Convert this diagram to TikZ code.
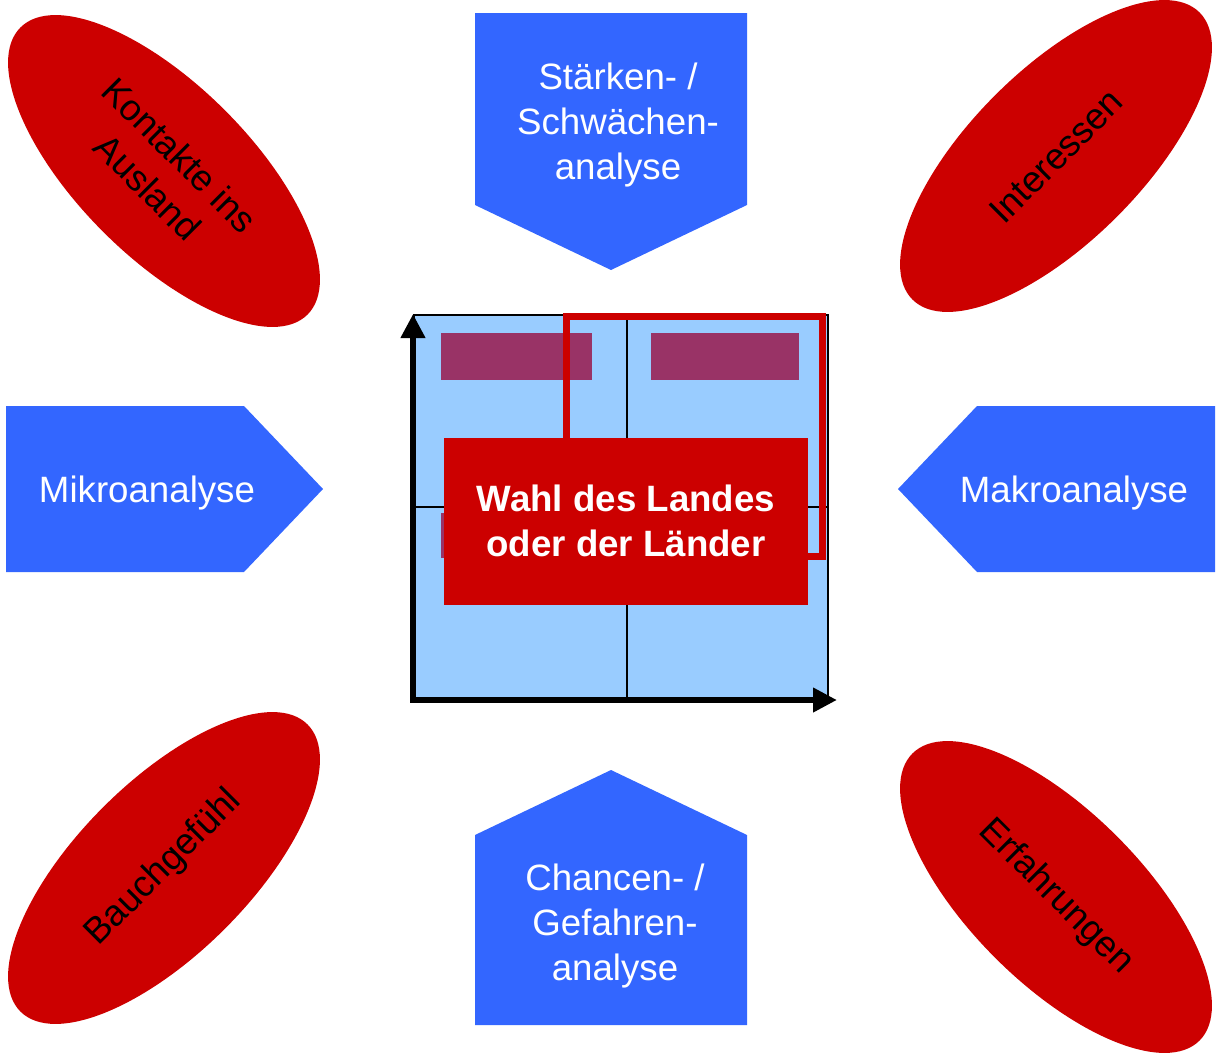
\documentclass[tikz,border=0pt]{standalone}
\usepackage{fontspec}
\setmainfont{Liberation Sans}
\usetikzlibrary{arrows.meta,positioning,shapes.geometric}
\definecolor{analysisblue}{RGB}{51,102,255}
\definecolor{factorred}{RGB}{204,0,0}
\definecolor{cellblue}{RGB}{153,204,255}
\definecolor{barpurple}{RGB}{153,51,102}
\begin{document}
\begin{tikzpicture}[
  x=0.75pt, y=-0.75pt,
  font=\fontsize{27.5}{33.75}\selectfont,
  factor/.style={ellipse, fill=factorred, align=center, inner sep=0pt, minimum width=304.5pt, minimum height=129pt},
  analysis/.style={fill=analysisblue},
  caption/.style={text=white, align=center},
  bar/.style={fill=barpurple},
  axis/.style={{Triangle[length=18pt,width=17.5pt]}-{Triangle[length=18pt,width=17.5pt]}, line width=4.5pt},
]
\useasboundingbox (0,0) rectangle (1217,1060);
% influencing factors
\node[factor, rotate=-45] (contacts) at (164,171) {Kontakte ins\\Ausland};
\node[factor, rotate=45] (interests) at (1056,156) {Interessen};
\node[factor, rotate=45] (gut) at (164,868) {Bauchgefühl};
\node[factor, rotate=-45] (experience) at (1056,897) {Erfahrungen};
% analyses pointing to the centre
\fill[analysis] (475,13) -- (747,13) -- (747,205) -- (611,270) -- (475,205) -- cycle;
\node[caption] (swot) at (618,125) {Stärken- /\\Schwächen-\\analyse};
\fill[analysis] (475,1025) -- (747,1025) -- (747,835) -- (611,770) -- (475,835) -- cycle;
\node[caption] (risks) at (615,926) {Chancen- /\\Gefahren-\\analyse};
\fill[analysis] (6,406) -- (244,406) -- (323,489) -- (244,572) -- (6,572) -- cycle;
\node[caption] (micro) at (147,493) {Mikroanalyse};
\fill[analysis] (1215,406) -- (977,406) -- (898,489) -- (977,572) -- (1215,572) -- cycle;
\node[caption] (macro) at (1074,493) {Makroanalyse};
% portfolio matrix
\draw[fill=cellblue, line width=1pt] (414,315) rectangle (828,698);
\draw[line width=1.2pt] (627,315) -- (627,698);
\draw[line width=1.2pt] (414,507) -- (828,507);
\fill[bar] (441,333) rectangle (592,380);
\fill[bar] (651,333) rectangle (799,380);
\fill[bar] (441,513) rectangle (592,558);
\draw[factorred, line width=5.25pt] (566,316) rectangle (822,556);
\node[fill=factorred, text=white, font=\fontsize{27.5}{33.75}\selectfont\bfseries, align=center,
  minimum width=273pt, minimum height=125.25pt] (choice) at (626,521) {Wahl des Landes\\oder der Länder};
% axes
\draw[axis] (413,314) -- (413,700) -- (837,700);
\end{tikzpicture}
\end{document}
